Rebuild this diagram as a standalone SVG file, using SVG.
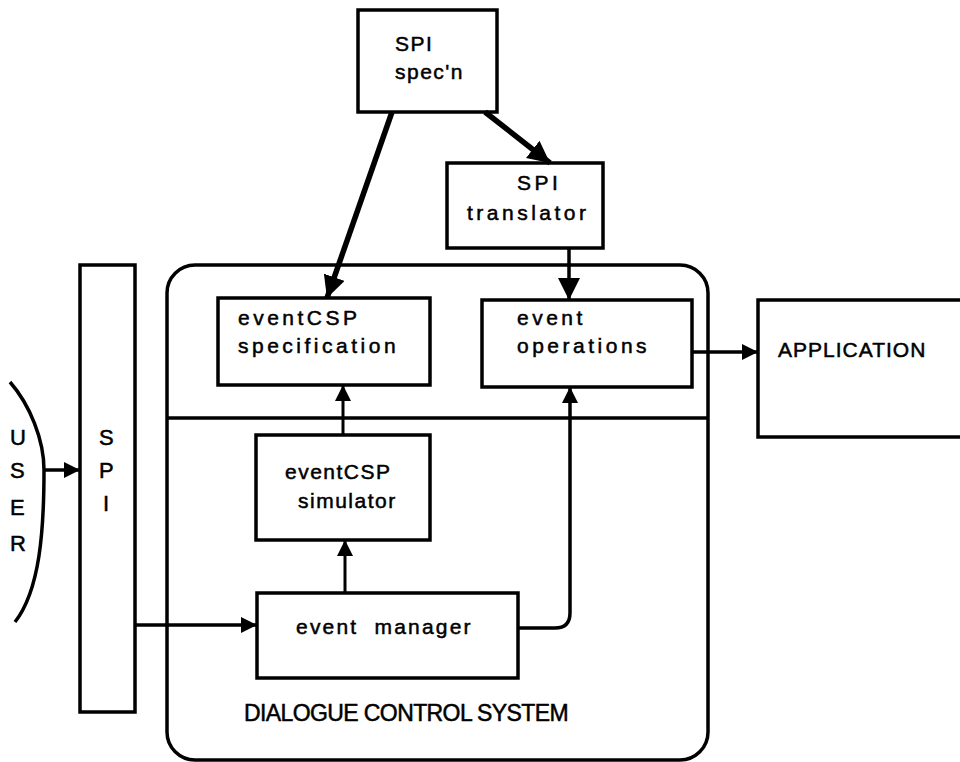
<svg xmlns="http://www.w3.org/2000/svg" width="960" height="762" viewBox="0 0 960 762">
<style>
.box{fill:none;stroke:#000;stroke-width:3.5}
.t{font-family:"Liberation Sans",Arial,sans-serif;font-size:21px;fill:#000;stroke:#000;stroke-width:0.5;letter-spacing:3.5px}
.thick{stroke:#000;stroke-width:5.5;fill:none}
.med{stroke:#000;stroke-width:3.5;fill:none}
.thin{stroke:#000;stroke-width:3;fill:none}
</style>
<defs>
<marker id="big" markerUnits="userSpaceOnUse" markerWidth="24" markerHeight="22" refX="22" refY="11" orient="auto"><path d="M0,0 L22,11 L0,22 z" fill="#000"/></marker>
<marker id="small" markerUnits="userSpaceOnUse" markerWidth="17" markerHeight="16" refX="16" refY="8" orient="auto"><path d="M0,0 L16,8 L0,16 z" fill="#000"/></marker>
</defs>
<rect width="960" height="762" fill="#fff"/>
<g id="dcs">
<rect class="box" x="167" y="265" width="541" height="495" rx="28"/>
<line class="box" x1="167" y1="418" x2="708" y2="418"/>
<text class="t" x="244" y="721" style="letter-spacing:-0.6px;font-size:23px">DIALOGUE CONTROL SYSTEM</text>
</g>
<g id="spec-n">
<rect class="box" x="358" y="10" width="139" height="102"/>
<text class="t" x="395" y="51" style="letter-spacing:1.5px">SPI</text>
<text class="t" x="395" y="79" style="letter-spacing:1.5px">spec'n</text>
</g>
<g id="translator">
<rect class="box" x="447" y="163" width="156" height="85"/>
<text class="t" x="517" y="190">SPI</text>
<text class="t" x="467" y="220">translator</text>
</g>
<g id="csp-spec">
<rect class="box" x="218" y="298" width="212" height="87"/>
<text class="t" x="238" y="325">eventCSP</text>
<text class="t" x="238" y="353">specification</text>
</g>
<g id="event-ops">
<rect class="box" x="482" y="300" width="210" height="87"/>
<text class="t" x="517" y="325">event</text>
<text class="t" x="517" y="353">operations</text>
</g>
<g id="simulator">
<rect class="box" x="256" y="435" width="174" height="105"/>
<text class="t" x="285" y="479" style="letter-spacing:1.5px">eventCSP</text>
<text class="t" x="298" y="508" style="letter-spacing:1.5px">simulator</text>
</g>
<g id="manager">
<rect class="box" x="257" y="593" width="261" height="85"/>
<text class="t" x="296" y="634" style="letter-spacing:2.2px" xml:space="preserve">event  manager</text>
</g>
<g id="application">
<rect class="box" x="758" y="300" width="220" height="137"/>
<text class="t" x="778" y="357" style="letter-spacing:1px">APPLICATION</text>
</g>
<g id="spi">
<rect class="box" x="80" y="265" width="55" height="447"/>
<text class="t" x="99" y="445" style="font-size:22px">S</text>
<text class="t" x="99" y="478" style="font-size:22px">P</text>
<text class="t" x="103" y="511" style="font-size:22px">I</text>
</g>
<g id="user">
<path class="med" d="M10,382 C30,405 44,440 44,470 C44,530 40,590 15,622"/>
<text class="t" x="10" y="445" style="font-size:22px">U</text>
<text class="t" x="10" y="478" style="font-size:22px">S</text>
<text class="t" x="10" y="515" style="font-size:22px">E</text>
<text class="t" x="10" y="551" style="font-size:22px">R</text>
</g>
<g id="connectors">
<line class="thick" x1="392" y1="112" x2="327" y2="298" marker-end="url(#big)"/>
<line class="thick" x1="485" y1="112" x2="550" y2="163" marker-end="url(#big)"/>
<line class="med" x1="569" y1="248" x2="569" y2="300" marker-end="url(#big)"/>
<line class="thin" x1="343" y1="435" x2="343" y2="385" marker-end="url(#small)"/>
<line class="thin" x1="345" y1="593" x2="345" y2="540" marker-end="url(#small)"/>
<path class="med" d="M518,628 H555 Q570,628 570,613 V387" marker-end="url(#small)"/>
<line class="med" x1="136" y1="625" x2="257" y2="625" marker-end="url(#small)"/>
<line class="med" x1="44" y1="470" x2="80" y2="470" marker-end="url(#small)"/>
<line class="med" x1="692" y1="352" x2="758" y2="352" marker-end="url(#small)"/>
</g>
</svg>
